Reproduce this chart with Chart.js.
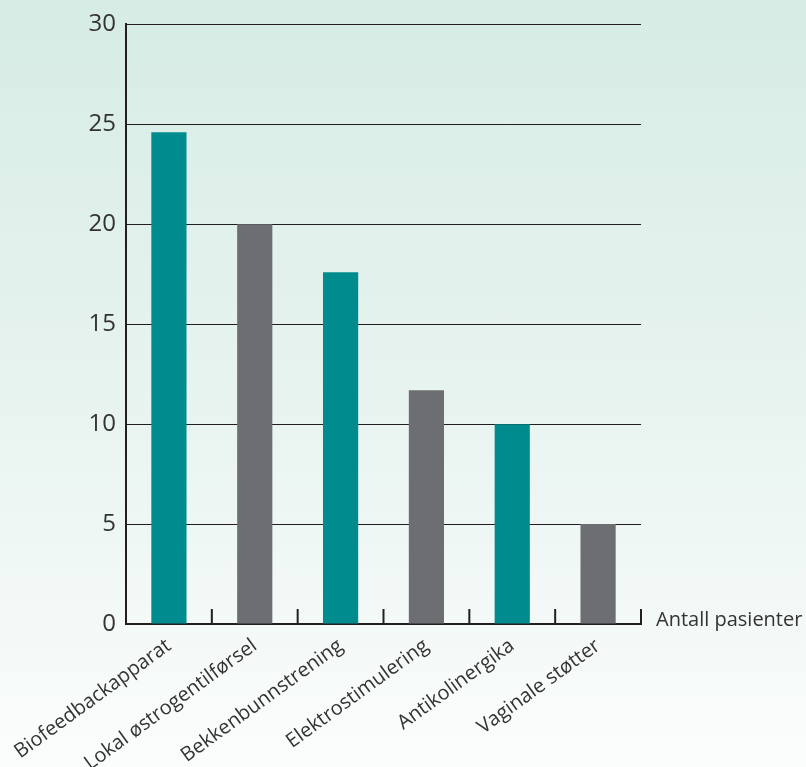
<!DOCTYPE html>
<html>
<head>
<meta charset="utf-8">
<script src="https://cdn.jsdelivr.net/npm/chart.js@4.4.0/dist/chart.umd.min.js"></script>
<style>
  html, body { margin: 0; padding: 0; }
  body {
    width: 806px; height: 767px;
    background: linear-gradient(to bottom, #d6ece4 0%, #e9f4f0 55%, #fbfdfc 100%);
  }
  #wrap { position: relative; width: 806px; height: 767px; }
</style>
</head>
<body>
<div id="wrap"><canvas id="chart"></canvas></div>
<script>
// data
const categories = ['Biofeedbackapparat', 'Lokal østrogentilførsel', 'Bekkenbunnstrening',
  'Elektrostimulering', 'Antikolinergika', 'Vaginale støtter'];
const patients = [24.6, 20, 17.6, 11.7, 10, 5];
const barColours = ['#008c8f', '#6d6e71', '#008c8f', '#6d6e71', '#008c8f', '#6d6e71'];
const yTicks = [0, 5, 10, 15, 20, 25, 30];
const axisTitle = 'Antall pasienter';

const ink = '#231f20';

// small upward ticks between categories + axis title at the right end
const boundaryTicks = {
  id: 'boundaryTicks',
  afterDraw(chart) {
    const ctx = chart.ctx;
    const x = chart.scales.x;
    const y0 = chart.scales.y.getPixelForValue(0);
    ctx.save();
    ctx.strokeStyle = ink;
    ctx.lineWidth = 2;
    for (let i = 0; i < categories.length; i++) {
      const bx = i < categories.length - 1
        ? (x.getPixelForValue(i) + x.getPixelForValue(i + 1)) / 2
        : x.right;
      ctx.beginPath();
      ctx.moveTo(bx, y0 + 1);
      ctx.lineTo(bx, y0 - 15);
      ctx.stroke();
    }
    ctx.fillStyle = '#333333';
    ctx.font = '20px "Open Sans"';
    ctx.textBaseline = 'middle';
    ctx.textAlign = 'left';
    ctx.fillText(axisTitle, x.right + 15, y0 - 4);
    ctx.restore();
  }
};

new Chart(document.getElementById('chart'), {
  type: 'bar',
  data: {
    labels: categories,
    datasets: [{
      data: patients,
      backgroundColor: barColours,
      borderWidth: 0,
      categoryPercentage: 1,
      barPercentage: 0.41
    }]
  },
  options: {
    responsive: true,
    maintainAspectRatio: false,
    animation: false,
    layout: { padding: { top: 22, right: 165, left: 0, bottom: 0 } },
    plugins: { legend: { display: false }, tooltip: { enabled: false } },
    scales: {
      x: {
        grid: { display: false },
        border: { display: true, color: ink, width: 2 },
        ticks: {
          color: '#333333',
          font: { family: 'Open Sans', size: 20 },
          minRotation: 36,
          maxRotation: 36,
          padding: 2,
          autoSkip: false
        },
        afterFit(scale) { scale.height = 143; }
      },
      y: {
        min: 0,
        max: 30,
        afterBuildTicks(scale) { scale.ticks = yTicks.map(v => ({ value: v })); },
        grid: { color: ink, lineWidth: 1, drawTicks: false },
        border: { display: true, color: ink, width: 2 },
        ticks: {
          color: '#333333',
          font: { family: 'Open Sans', size: 24 },
          padding: 10
        },
        afterFit(scale) { scale.width = 126; }
      }
    }
  },
  plugins: [boundaryTicks]
});
</script>
</body>
</html>
